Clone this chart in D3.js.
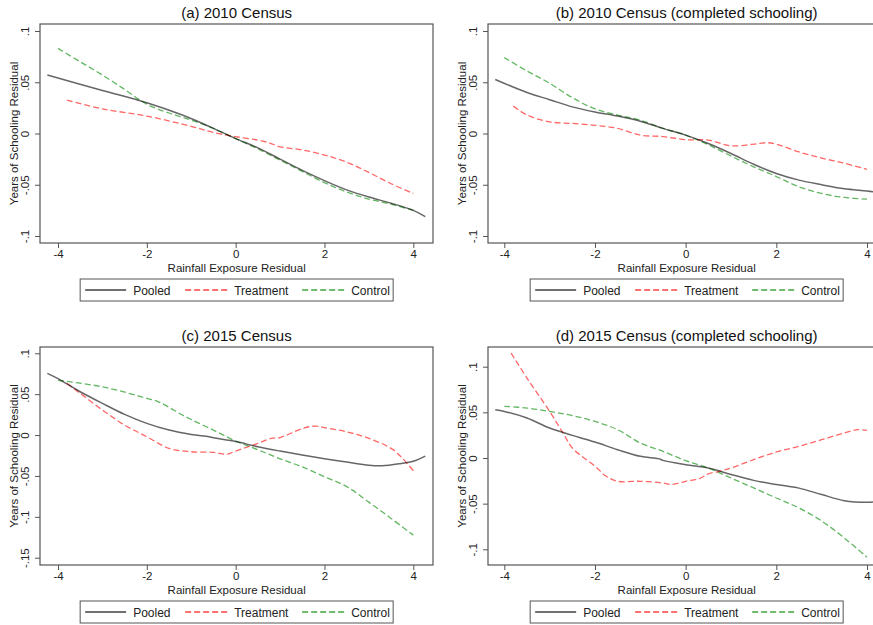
<!DOCTYPE html>
<html>
<head>
<meta charset="utf-8">
<script src="https://cdn.jsdelivr.net/npm/d3@7"></script>
<style>
  body { margin: 0; background: #fff; }
  svg { display: block; font-family: "Liberation Sans", Arial, sans-serif; }
</style>
</head>
<body>
<div id="chart"></div>
<script>
// ---- data: [rainfall residual, schooling residual] ----
const a_pooled = [[-4.24,0.057],[-3,0.042],[-2,0.030],[-1.2,0.018],[-0.6,0.007],[0,-0.005],[0.5,-0.014],[1,-0.025],[1.5,-0.036],[2,-0.046],[2.5,-0.055],[3,-0.062],[3.5,-0.068],[4,-0.075],[4.27,-0.081]];
const a_treatment = [[-3.8,0.0325],[-3,0.024],[-2,0.017],[-1,0.007],[-0.5,0.001],[0,-0.003],[0.5,-0.0065],[0.75,-0.009],[1,-0.013],[1.5,-0.016],[2,-0.021],[2.5,-0.028],[3,-0.038],[3.5,-0.049],[4,-0.0585]];
const a_control = [[-4,0.083],[-3.5,0.070],[-3,0.057],[-2.5,0.043],[-2,0.0286],[-1.5,0.020],[-1,0.013],[-0.5,0.005],[0,-0.005],[0.5,-0.015],[1,-0.026],[1.5,-0.037],[2,-0.048],[2.5,-0.057],[3,-0.064],[3.5,-0.069],[4,-0.075]];

const b_pooled = [[-4.2,0.0527],[-3.5,0.040],[-3,0.033],[-2.5,0.026],[-2,0.021],[-1.5,0.017],[-1,0.012],[-0.5,0.005],[0,-0.0016],[0.5,-0.0098],[1,-0.0195],[1.5,-0.030],[2,-0.039],[2.5,-0.0455],[3,-0.050],[3.5,-0.054],[4,-0.056],[4.15,-0.057]];
const b_treatment = [[-3.8,0.0267],[-3.5,0.018],[-3,0.0114],[-2.5,0.0098],[-2,0.008],[-1.5,0.005],[-1,-0.0016],[-0.5,-0.003],[0,-0.006],[0.5,-0.0065],[1,-0.012],[1.5,-0.0104],[1.8,-0.009],[2,-0.0104],[2.5,-0.018],[3,-0.024],[3.5,-0.029],[4,-0.035]];
const b_control = [[-4,0.074],[-3.5,0.061],[-3,0.049],[-2.5,0.035],[-2,0.024],[-1.5,0.018],[-1,0.013],[-0.5,0.005],[0,-0.0016],[0.5,-0.011],[1,-0.022],[1.5,-0.0325],[2,-0.042],[2.5,-0.052],[3,-0.0585],[3.5,-0.0624],[4,-0.064]];

const c_pooled = [[-4.24,0.0755],[-4,0.069],[-3.5,0.053],[-3,0.0388],[-2.5,0.0253],[-2,0.0143],[-1.5,0.0061],[-1,0.0008],[-0.6,-0.002],[-0.5,-0.0033],[0,-0.008],[0.5,-0.0143],[1,-0.0196],[1.5,-0.0245],[2,-0.029],[2.5,-0.033],[3,-0.037],[3.3,-0.0376],[3.7,-0.035],[4,-0.032],[4.27,-0.0257]];
const c_treatment = [[-3.8,0.0633],[-3.5,0.051],[-3,0.0306],[-2.5,0.0122],[-2,-0.002],[-1.5,-0.0163],[-1,-0.0204],[-0.5,-0.0212],[-0.2,-0.0235],[0,-0.0196],[0.5,-0.0102],[0.8,-0.004],[1,-0.003],[1.5,0.008],[1.8,0.011],[2,0.009],[2.5,0.004],[3,-0.004],[3.5,-0.0163],[3.75,-0.028],[4,-0.0437]];
const c_control = [[-4,0.067],[-3,0.059],[-2,0.045],[-1.75,0.041],[-1.5,0.034],[-1.25,0.026],[-1,0.019],[-0.5,0.006],[0,-0.0073],[0.5,-0.018],[1,-0.029],[1.5,-0.039],[2,-0.051],[2.5,-0.063],[3,-0.082],[3.5,-0.102],[4,-0.1224]];

const d_pooled = [[-4.2,0.0529],[-4,0.051],[-3.5,0.0438],[-3,0.0328],[-2.5,0.0248],[-2,0.0175],[-1.5,0.0091],[-1,0.0018],[-0.6,-0.0007],[-0.5,-0.0026],[0,-0.0073],[0.5,-0.011],[1,-0.018],[1.5,-0.0245],[2,-0.029],[2.5,-0.033],[3,-0.040],[3.5,-0.0467],[4,-0.0485],[4.15,-0.048]];
const d_treatment = [[-3.85,0.115],[-3.5,0.0876],[-3,0.051],[-2.7,0.027],[-2.5,0.011],[-2,-0.009],[-1.75,-0.020],[-1.5,-0.0255],[-1,-0.0255],[-0.5,-0.0274],[-0.3,-0.029],[0,-0.0255],[0.3,-0.0226],[0.5,-0.0175],[0.8,-0.0139],[1,-0.011],[1.5,-0.0018],[2,0.0066],[2.5,0.0128],[3,0.020],[3.5,0.0274],[3.8,0.031],[4,0.0303]];
const d_control = [[-4,0.0566],[-3.5,0.0547],[-3,0.051],[-2.5,0.0464],[-2,0.040],[-1.5,0.031],[-1,0.0164],[-0.5,0.0073],[0,-0.0029],[0.5,-0.011],[1,-0.0219],[1.5,-0.0328],[2,-0.0438],[2.5,-0.0547],[3,-0.069],[3.5,-0.0876],[4,-0.1088]];

const xTicks = [-4, -2, 0, 2, 4];
const yTicksAB = [0.1, 0.05, 0, -0.05, -0.1];
const yTicksC = [0.1, 0.05, 0, -0.05, -0.1, -0.15];
const yTicksD = [0.1, 0.05, 0, -0.05, -0.1];
const seriesNames = ["Pooled", "Treatment", "Control"];

// ---- style ----
const styles = {
  Pooled:    { color: "#000", opacity: 0.6, dash: null },
  Treatment: { color: "#ff0000", opacity: 0.6, dash: "6,3" },
  Control:   { color: "#109010", opacity: 0.65, dash: "6,3" }
};

const W = 873, H = 625;
const svg = d3.select("#chart").append("svg").attr("width", W).attr("height", H);

// panel geometry (frame + pixel positions of the ticks)
const panels = [
  { title: "(a) 2010 Census", series: [a_pooled, a_treatment, a_control], yTicks: yTicksAB,
    frame: [40, 24, 433, 243], xPx: [58, 413.3], yDom: [0.1, -0.1], yPx: [31, 236] },
  { title: "(b) 2010 Census (completed schooling)", series: [b_pooled, b_treatment, b_control], yTicks: yTicksAB,
    frame: [488, 24, 880, 243], xPx: [504.3, 867], yDom: [0.1, -0.1], yPx: [31, 236] },
  { title: "(c) 2015 Census", series: [c_pooled, c_treatment, c_control], yTicks: yTicksC,
    frame: [40, 347, 433, 565], xPx: [58, 413.3], yDom: [0.1, -0.15], yPx: [353.3, 557.7] },
  { title: "(d) 2015 Census (completed schooling)", series: [d_pooled, d_treatment, d_control], yTicks: yTicksD,
    frame: [488, 347, 880, 565], xPx: [504.3, 867], yDom: [0.1, -0.1], yPx: [366.7, 549.3] }
];

// Stata style labels: ".1", "-.05", "0"
const fmtY = (v) => {
  if (v === 0) return "0";
  return (v < 0 ? "-" : "") + String(+Math.abs(v).toFixed(2)).replace(/^0/, "");
};
const fmtX = (v) => (v < 0 ? "-" : "") + Math.abs(v);

panels.forEach((p) => {
  const [fl, ft, fr, fb] = p.frame;
  const x = d3.scaleLinear().domain([-4, 4]).range(p.xPx);
  const y = d3.scaleLinear().domain(p.yDom).range(p.yPx);
  const g = svg.append("g");

  // title
  g.append("text")
    .attr("x", x(0) + 1)
    .attr("y", ft - 6)
    .attr("text-anchor", "middle")
    .style("font-size", "15px")
    .style("fill", "#111")
    .text(p.title);

  // frame
  g.append("rect")
    .attr("x", fl).attr("y", ft)
    .attr("width", fr - fl).attr("height", fb - ft)
    .attr("fill", "none")
    .attr("stroke", "#555")
    .attr("stroke-width", 1.2);

  // x axis ticks
  const xa = g.append("g").attr("transform", `translate(0,${fb})`)
    .call(d3.axisBottom(x).tickValues(xTicks).tickSize(5).tickSizeOuter(0).tickFormat(fmtX));
  xa.select(".domain").remove();
  xa.selectAll("line").attr("stroke", "#555");
  xa.selectAll("text").attr("dy", null).attr("y", 15)
    .style("font-size", "11.5px").style("fill", "#222").style("font-family", "Liberation Sans, Arial, sans-serif");

  // y axis ticks
  const ya = g.append("g").attr("transform", `translate(${fl},0)`)
    .call(d3.axisLeft(y).tickValues(p.yTicks).tickSize(5).tickSizeOuter(0).tickFormat(fmtY));
  ya.select(".domain").remove();
  ya.selectAll("line").attr("stroke", "#555");
  ya.selectAll("text")
    .attr("x", null).attr("dy", null)
    .attr("transform", "translate(-11,0) rotate(-90)")
    .attr("text-anchor", "middle")
    .style("font-size", "11.5px").style("fill", "#222").style("font-family", "Liberation Sans, Arial, sans-serif");

  // axis titles
  g.append("text")
    .attr("x", x(0) + 1).attr("y", fb + 29)
    .attr("text-anchor", "middle")
    .style("font-size", "11.5px").style("fill", "#222")
    .text("Rainfall Exposure Residual");

  g.append("text")
    .attr("transform", `translate(${fl - 22},${(ft + fb) / 2}) rotate(-90)`)
    .attr("text-anchor", "middle")
    .style("font-size", "11.5px").style("fill", "#222")
    .text("Years of Schooling Residual");

  // curves
  const line = d3.line().x((d) => x(d[0])).y((d) => y(d[1])).curve(d3.curveCatmullRom.alpha(0.5));
  const order = [2, 1, 0];
  order.forEach((i) => {
    const st = styles[seriesNames[i]];
    g.append("path")
      .datum(p.series[i])
      .attr("d", line)
      .attr("fill", "none")
      .attr("stroke", st.color)
      .attr("stroke-opacity", st.opacity)
      .attr("stroke-width", st.dash ? 1.3 : 1.5)
      .attr("stroke-dasharray", st.dash);
  });

  // legend
  const lx = x(0) + 1 - 156.5, ly = fb + 36;
  const lg = g.append("g").attr("transform", `translate(${lx},${ly})`);
  lg.append("rect").attr("width", 313).attr("height", 22)
    .attr("fill", "#fff").attr("stroke", "#555").attr("stroke-width", 1);
  const items = [
    { name: "Pooled", x0: 5, x1: 46, tx: 53 },
    { name: "Treatment", x0: 105, x1: 148, tx: 154 },
    { name: "Control", x0: 222, x1: 265, tx: 271 }
  ];
  items.forEach((it) => {
    const st = styles[it.name];
    lg.append("line")
      .attr("x1", it.x0).attr("x2", it.x1).attr("y1", 11).attr("y2", 11)
      .attr("stroke", st.color)
      .attr("stroke-opacity", Math.min(1, st.opacity + 0.15))
      .attr("stroke-width", st.dash ? 1.3 : 1.5)
      .attr("stroke-dasharray", st.dash);
    lg.append("text")
      .attr("x", it.tx).attr("y", 15.5)
      .style("font-size", "12px").style("fill", "#222")
      .text(it.name);
  });
});
</script>
</body>
</html>
